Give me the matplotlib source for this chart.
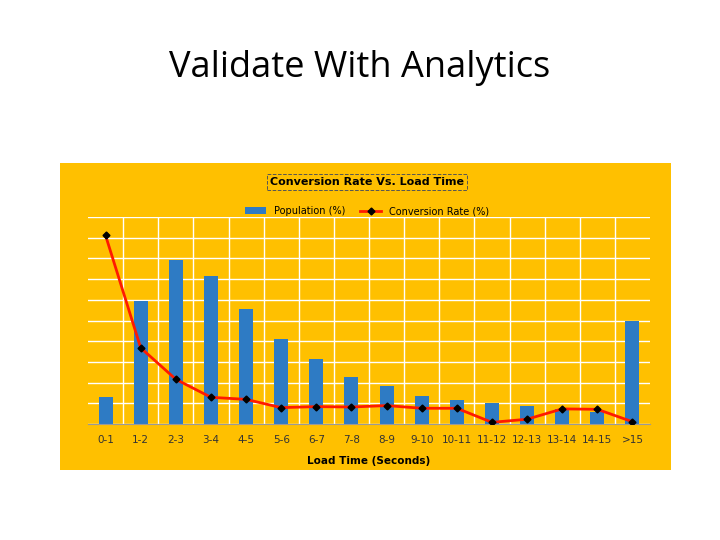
import matplotlib.pyplot as plt
from matplotlib.patches import Rectangle

categories = ['0-1', '1-2', '2-3', '3-4', '4-5', '5-6', '6-7', '7-8', '8-9', '9-10',
              '10-11', '11-12', '12-13', '13-14', '14-15', '>15']
population = [1.29, 5.92, 7.94, 7.16, 5.56, 4.13, 3.13, 2.27, 1.84, 1.37,
              1.16, 1.0, 0.85, 0.71, 0.6, 4.98]
conversion = [9.11, 3.68, 2.16, 1.29, 1.19, 0.79, 0.84, 0.82, 0.89, 0.76,
              0.76, 0.08, 0.23, 0.73, 0.71, 0.11]

ORANGE = '#FFC000'
BLUE = '#2E7BC4'

fig = plt.figure(figsize=(7.2, 5.4), dpi=100, facecolor='w')
W, H = 720, 540

# slide title
fig.text(360 / W, 1 - 68 / H, 'Validate With Analytics', ha='center', va='center',
         fontsize=26, family=['Open Sans', 'DejaVu Sans'])

# orange panel behind the chart
fig.patches.append(Rectangle((60 / W, 1 - 470 / H), 611 / W, 307 / H,
                             transform=fig.transFigure, facecolor=ORANGE,
                             edgecolor='none', zorder=-1))

ax = fig.add_axes([88 / W, 1 - 424 / H, 562 / W, 207 / H])
ax.set_zorder(1)
ax.set_facecolor(ORANGE)
x = list(range(len(categories)))
bars = ax.bar(x, population, width=0.4, color=BLUE, label='Population (%)', zorder=2)
line, = ax.plot(x, conversion, color='#FF1A00', linewidth=2, marker='D', markersize=3.5,
                markerfacecolor='k', markeredgecolor='k', label='Conversion Rate (%)', zorder=3)

ax.set_xlim(-0.5, len(categories) - 0.5)
ax.set_ylim(0, 10)
ax.set_yticks(range(11))
ax.set_yticklabels([])
ax.set_xticks([i + 0.5 for i in x[:-1]], minor=True)
ax.grid(True, which='major', axis='y', color='white', linewidth=1)
ax.grid(True, which='minor', axis='x', color='white', linewidth=1)
ax.set_axisbelow(True)
ax.set_xticks(x)
ax.set_xticklabels(categories, fontsize=7.5, color='#333333')
ax.tick_params(axis='x', which='both', length=0, pad=8)
ax.tick_params(axis='y', length=0)
for s in ['top', 'right', 'left']:
    ax.spines[s].set_visible(False)
ax.spines['bottom'].set_color('#999999')
ax.set_xlabel('Load Time (Seconds)', fontsize=7.5, fontweight='bold', labelpad=8)

fig.text(367 / W, 1 - 182 / H, 'Conversion Rate Vs. Load Time', ha='center', va='center',
         fontsize=8, fontweight='bold',
         bbox=dict(boxstyle='square,pad=0.25', facecolor=ORANGE, edgecolor='#555555',
                   linestyle='--', linewidth=0.7))
fig.legend([bars, line], ['Population (%)', 'Conversion Rate (%)'],
           loc='center', bbox_to_anchor=(367 / W, 1 - 211 / H), ncol=2, frameon=False,
           fontsize=7, handlelength=2.2, columnspacing=1.5)

fig.savefig('out.png', dpi=100, facecolor='w')
